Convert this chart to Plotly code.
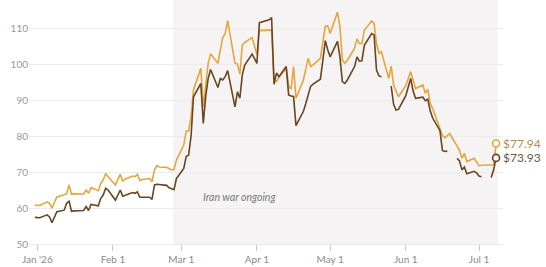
import plotly.graph_objects as go

dates = [
    "2025-12-31", "2026-01-02",
    "2026-01-05", "2026-01-06", "2026-01-07", "2026-01-08", "2026-01-09",
    "2026-01-12", "2026-01-13", "2026-01-14", "2026-01-15", "2026-01-16",
    "2026-01-19", "2026-01-20", "2026-01-21", "2026-01-22", "2026-01-23",
    "2026-01-26", "2026-01-27", "2026-01-28", "2026-01-29", "2026-01-30",
    "2026-02-02", "2026-02-03", "2026-02-04", "2026-02-05", "2026-02-06",
    "2026-02-09", "2026-02-10", "2026-02-11", "2026-02-12", "2026-02-13",
    "2026-02-16", "2026-02-17", "2026-02-18", "2026-02-19", "2026-02-20",
    "2026-02-23", "2026-02-24", "2026-02-25", "2026-02-26", "2026-02-27",
    "2026-03-02", "2026-03-03", "2026-03-04", "2026-03-05", "2026-03-06",
    "2026-03-09", "2026-03-10", "2026-03-11", "2026-03-12", "2026-03-13",
    "2026-03-16", "2026-03-17", "2026-03-18", "2026-03-19", "2026-03-20",
    "2026-03-23", "2026-03-24", "2026-03-25", "2026-03-26", "2026-03-27",
    "2026-03-30", "2026-03-31", "2026-04-01", "2026-04-02",
    "2026-04-06", "2026-04-07", "2026-04-08", "2026-04-09", "2026-04-10",
    "2026-04-13", "2026-04-14", "2026-04-15", "2026-04-16", "2026-04-17",
    "2026-04-20", "2026-04-21", "2026-04-22", "2026-04-23", "2026-04-24",
    "2026-04-27", "2026-04-28", "2026-04-29", "2026-04-30", "2026-05-01",
    "2026-05-04", "2026-05-05", "2026-05-06", "2026-05-07", "2026-05-08",
    "2026-05-11", "2026-05-12", "2026-05-13", "2026-05-14", "2026-05-15",
    "2026-05-18", "2026-05-19", "2026-05-20", "2026-05-21", "2026-05-22",
    "2026-05-25", "2026-05-26", "2026-05-27", "2026-05-28", "2026-05-29",
    "2026-06-01", "2026-06-02", "2026-06-03", "2026-06-04", "2026-06-05",
    "2026-06-08", "2026-06-09", "2026-06-10", "2026-06-11", "2026-06-12",
    "2026-06-15", "2026-06-16", "2026-06-17", "2026-06-18", "2026-06-19",
    "2026-06-22", "2026-06-23", "2026-06-24", "2026-06-25", "2026-06-26",
    "2026-06-29", "2026-06-30", "2026-07-01", "2026-07-02", "2026-07-03",
    "2026-07-06", "2026-07-07", "2026-07-08",
]

brent = [
    60.8, 60.7,
    61.7, 61.3, 60.0, 61.6, 63.1,
    63.7, 64.0, 66.4, 63.8, 64.0,
    63.9, 63.9, 65.0, 64.1, 65.7,
    64.8, 66.9, 67.8, 69.6, 68.7,
    66.4, 67.9, 69.4, 67.5, 68.0,
    68.9, 68.7, 69.4, 67.6, 67.9,
    68.2, 67.3, 70.6, 71.8, 71.4,
    71.3, 71.0, 70.6, 70.7, 73.3,
    77.5, 81.4, 81.4, 85.4, 92.8,
    98.8, 88.1, 94.5, 100.2, 102.9,
    100.2, 104.0, 107.4, 108.5, 112.1,
    100.2, 100.0, 97.2, 105.3, 106.0,
    107.4, 105.0, 102.6, 109.3,
    109.6, 109.5, 95.6, 95.1, 96.3,
    98.8, 94.0, 93.0, 99.3, 90.5,
    95.5, 98.5, 101.6, 99.3, 99.8,
    101.6, 106.0, 110.5, 110.6, 108.5,
    114.4, 110.4, 101.1, 100.2, 101.0,
    104.4, 107.0, 105.7, 105.7, 109.4,
    112.0, 111.3, 105.7, 103.0, 103.4,
    96.0, 99.4, 94.2, 92.5, 90.9,
    94.0, 96.0, 97.9, 95.5, 93.2,
    94.2, 91.9, 93.0, 89.0, 87.6,
    82.0, 80.2, 79.5, 80.1, 80.7,
    77.2, 76.0, 73.8, 75.2, 72.9,
    73.8, 72.8, 71.7, 71.9, 71.9,
    71.9, 72.0, 77.94,
]

wti = [
    57.4, 57.3,
    58.1, 57.5, 55.9, 57.5, 59.0,
    59.4, 61.3, 61.9, 59.1, 59.2,
    59.3, 59.3, 60.4, 59.3, 61.0,
    60.6, 62.7, 63.6, 65.5, 65.0,
    62.2, 63.6, 65.0, 63.3, 63.6,
    64.3, 64.1, 64.5, 63.0, 63.0,
    63.0, 62.4, 66.4, 66.6, 66.5,
    66.3, 65.6, 65.3, 65.1, 68.2,
    71.0, 74.3, 74.7, 80.0, 90.9,
    94.6, 83.5, 91.0, 96.0, 98.5,
    93.5, 96.0, 95.6, 96.5, 98.2,
    88.1, 92.3, 90.5, 97.0, 99.7,
    102.8, 101.5, 100.2, 111.5,
    112.3, 112.9, 94.4, 97.5, 96.5,
    99.3, 91.4, 91.1, 91.0, 82.9,
    86.8, 89.0, 91.5, 93.8, 94.4,
    95.8, 101.0, 106.5, 104.0, 102.0,
    106.3, 102.0, 95.1, 94.6, 95.5,
    99.3, 102.0, 100.8, 100.9, 105.2,
    108.5, 108.1, 98.3, 96.7, 96.5,
    None, 93.9, 88.8, 87.2, 87.4,
    91.2, 93.5, 96.0, 92.5, 90.5,
    90.8, 89.8, 90.2, 87.0, 85.0,
    81.5, 76.0, 75.7, 75.8, None,
    73.8, 73.1, 70.6, 71.4, 69.5,
    70.2, 69.8, 68.9, 68.7, None,
    68.5, 70.6, 73.93,
]

tick_vals = ["2026-01-01", "2026-02-01", "2026-03-01", "2026-04-01",
             "2026-05-01", "2026-06-01", "2026-07-01"]
tick_text = ["Jan '26", "Feb 1", "Mar 1", "Apr 1", "May 1", "Jun 1", "Jul 1"]
y_ticks = [50, 60, 70, 80, 90, 100, 110]

war_start = "2026-02-25 14:00"
war_end = "2026-07-08 16:00"
war_label = "Iran war ongoing"

GOLD = "#E4A73D"
BROWN = "#6A4522"
FONT = "Lato, 'Open Sans', sans-serif"

fig = go.Figure()

fig.add_shape(type="rect", xref="x", yref="paper", x0=war_start, x1=war_end,
              y0=0, y1=1, fillcolor="#F5F3F3", line_width=0, layer="below")

fig.add_trace(go.Scatter(x=dates, y=brent, mode="lines",
                         line=dict(color=GOLD, width=1.6), connectgaps=False,
                         hoverinfo="skip", showlegend=False))
fig.add_trace(go.Scatter(x=dates, y=wti, mode="lines",
                         line=dict(color=BROWN, width=1.6), connectgaps=False,
                         hoverinfo="skip", showlegend=False))
fig.add_trace(go.Scatter(x=[dates[-1]], y=[brent[-1]], mode="markers",
                         marker=dict(symbol="circle", size=7, color="white",
                                     line=dict(color=GOLD, width=1.6)),
                         hoverinfo="skip", showlegend=False))
fig.add_trace(go.Scatter(x=[dates[-1]], y=[wti[-1]], mode="markers",
                         marker=dict(symbol="circle", size=7, color="white",
                                     line=dict(color=BROWN, width=1.6)),
                         hoverinfo="skip", showlegend=False))

fig.add_annotation(x=dates[-1], y=brent[-1], text=f"${brent[-1]:.2f}",
                   xanchor="left", yanchor="middle", xshift=5, showarrow=False,
                   font=dict(family=FONT, size=12, color="#B08D55"))
fig.add_annotation(x=dates[-1], y=wti[-1], text=f"${wti[-1]:.2f}",
                   xanchor="left", yanchor="middle", xshift=5, showarrow=False,
                   font=dict(family=FONT, size=12, color="#6E5842"))
fig.add_annotation(x="2026-03-25", y=63, text=f"<i>{war_label}</i>",
                   xanchor="center", yanchor="middle", showarrow=False,
                   font=dict(family=FONT, size=10.5, color="#7A7A7A"))

fig.update_layout(
    width=546, height=267,
    margin=dict(l=29, r=43, t=0, b=23),
    paper_bgcolor="white", plot_bgcolor="white",
    font=dict(family=FONT, size=10, color="#8A8A8A"),
    xaxis=dict(range=["2025-12-28 14:00", "2026-07-10 20:00"],
               tickvals=tick_vals, ticktext=tick_text,
               showgrid=False, zeroline=False,
               showline=True, linecolor="#E8E8E8", linewidth=1,
               ticks="outside", ticklen=6, tickcolor="#C8C8C8", tickwidth=1,
               tickfont=dict(family=FONT, size=10, color="#8A8A8A")),
    yaxis=dict(range=[50, 117.8], tickvals=y_ticks,
               showgrid=True, gridcolor="#EBEBEB", gridwidth=1,
               zeroline=False, showline=False, ticks="",
               tickfont=dict(family=FONT, size=10, color="#999999")),
)

fig.write_html("out.html")
